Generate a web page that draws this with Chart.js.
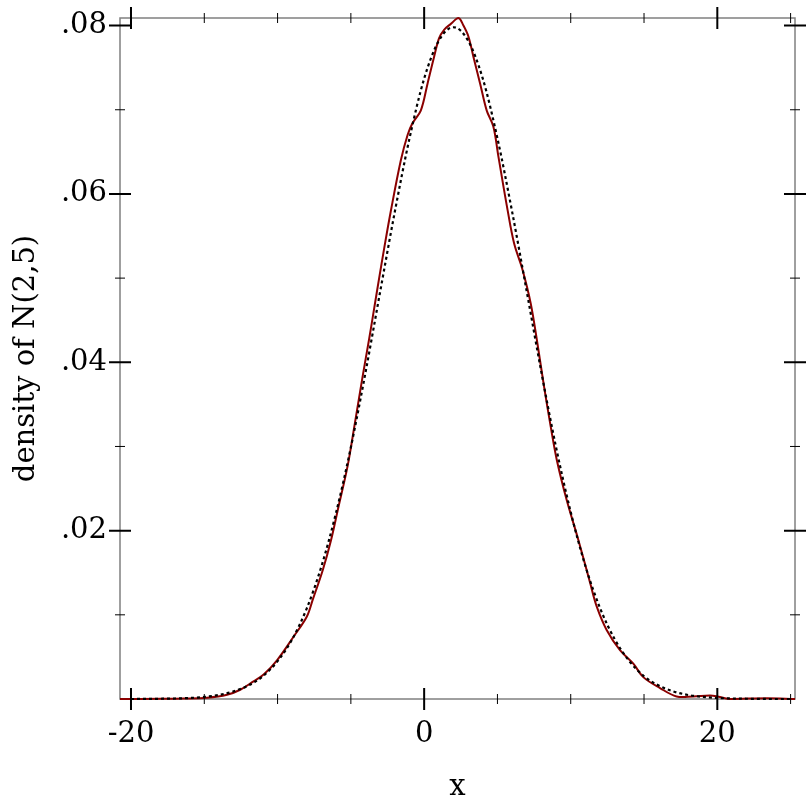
<!DOCTYPE html>
<html>
<head>
<meta charset="utf-8">
<script src="https://cdn.jsdelivr.net/npm/chart.js@4"></script>
<style>
  body { margin: 0; background: #fff; }
  #wrap { width: 812px; height: 812px; }
</style>
</head>
<body>
<div id="wrap"><canvas id="densityChart" width="812" height="812"></canvas></div>
<script>
// estimated density of the sample (dark red)
const kdeX = [-20.75, -18, -16.4, -14.8, -13.45, -12.55, -11.64, -10.95, -10.04, -8.91, -8.0, -7.6,
  -6.92, -6.35, -5.9, -5.22, -4.77, -4.2, -3.75, -3.41, -3.07, -2.73, -2.27, -1.59, -1.13, -0.8,
  -0.23, 0.23, 0.68, 1.02, 1.36, 1.82, 2.34, 2.68, 3.02, 3.36, 3.82, 4.27, 4.72, 5.07, 5.69, 6.14,
  6.71, 7.27, 7.73, 8.18, 8.64, 9.05, 9.73, 10.52, 11.32, 11.77, 12.45, 13.36, 14.27, 14.95, 16.09,
  17.22, 18.36, 19.7, 20.84, 23.4, 25.3];
const kdeY = [0.0, 0.00002, 0.00005, 0.00015, 0.0005, 0.0011, 0.0021, 0.0029, 0.0046, 0.0074, 0.0098, 0.0118,
  0.0153, 0.0189, 0.0224, 0.0277, 0.0323, 0.0383, 0.0428, 0.0464, 0.0500, 0.0535, 0.0580, 0.0640, 0.0670, 0.0684,
  0.0699, 0.0731, 0.0763, 0.0785, 0.0795, 0.0802, 0.0809, 0.0800, 0.0787, 0.0763, 0.0731, 0.0699, 0.0680, 0.0644, 0.0581, 0.0541,
  0.0510, 0.0470, 0.0422, 0.0371, 0.0323, 0.0284, 0.0236, 0.0189, 0.0138, 0.0110, 0.0082, 0.0058, 0.0042, 0.0026, 0.0013,
  0.0003, 0.0003, 0.0004, 0.0, 0.0001, 0.0];

// N(2,5) density (dotted black)
const normX = [-20, -19, -18, -17, -16, -15, -14, -13, -12, -11, -10, -9, -8, -7, -6, -5, -4, -3, -2, -1, 0,
  1, 2, 3, 4, 5, 6, 7, 8, 9, 10, 11, 12, 13, 14, 15, 16, 17, 18, 19, 20, 21, 22, 23, 24, 25];
const normY = [0.0, 0.00001, 0.00003, 0.00006, 0.00012, 0.00025, 0.00048, 0.0009, 0.0016, 0.0027, 0.0045,
  0.0071, 0.0108, 0.0158, 0.0222, 0.0299, 0.0388, 0.0484, 0.0579, 0.0666, 0.0737,
  0.0782, 0.0798, 0.0782, 0.0737, 0.0666, 0.0579, 0.0484, 0.0388, 0.0299, 0.0222, 0.0158, 0.0108, 0.0071,
  0.0045, 0.0027, 0.0016, 0.0009, 0.00048, 0.00025, 0.00012, 0.00006, 0.00003, 0.00001, 0.0, 0.0];

// ticks
const xMajor = [-20, 0, 20];
const xMajorLabels = ['-20', '0', '20'];
const xMinor = [-15, -10, -5, 5, 10, 15, 25];
const yMajor = [0.02, 0.04, 0.06, 0.08];
const yMajorLabels = ['.02', '.04', '.06', '.08'];
const yMinor = [0.01, 0.03, 0.05, 0.07];

const serif = 'DejaVu Serif';
const toPoints = (xs, ys) => xs.map((x, i) => ({ x: x, y: ys[i] }));

// grey box plus tick marks on all four sides
const frameTicks = {
  id: 'frameTicks',
  beforeDatasetsDraw(chart) {
    const { ctx, chartArea: a } = chart;
    ctx.save();
    ctx.strokeStyle = '#808080';
    ctx.lineWidth = 1.5;
    ctx.strokeRect(a.left, a.top, a.right - a.left, a.bottom - a.top);
    ctx.restore();
  },
  afterDatasetsDraw(chart) {
    const { ctx, chartArea: a, scales } = chart;
    ctx.save();
    ctx.strokeStyle = '#000';
    const vTick = (v, half, w) => {
      const px = scales.x.getPixelForValue(v);
      ctx.lineWidth = w;
      ctx.beginPath();
      ctx.moveTo(px, a.bottom - half); ctx.lineTo(px, a.bottom + half);
      ctx.moveTo(px, a.top - half); ctx.lineTo(px, a.top + half);
      ctx.stroke();
    };
    const hTick = (v, half, w) => {
      const py = scales.y.getPixelForValue(v);
      ctx.lineWidth = w;
      ctx.beginPath();
      ctx.moveTo(a.left - half, py); ctx.lineTo(a.left + half, py);
      ctx.moveTo(a.right - half, py); ctx.lineTo(a.right + half, py);
      ctx.stroke();
    };
    xMajor.forEach(v => vTick(v, 11, 2));
    xMinor.forEach(v => vTick(v, 5, 1));
    yMajor.forEach(v => hTick(v, 11, 2));
    yMinor.forEach(v => hTick(v, 5, 1));
    ctx.restore();
  }
};

new Chart(document.getElementById('densityChart').getContext('2d'), {
  type: 'line',
  data: {
    datasets: [
      {
        label: 'N(2,5)',
        data: toPoints(normX, normY),
        borderColor: '#000',
        borderWidth: 2.2,
        borderDash: [3, 3],
        pointRadius: 0,
        cubicInterpolationMode: 'monotone',
        fill: false,
        clip: 4
      },
      {
        label: 'density',
        data: toPoints(kdeX, kdeY),
        borderColor: '#8b0000',
        borderWidth: 2,
        pointRadius: 0,
        tension: 0.35,
        fill: false,
        clip: 4
      }
    ]
  },
  options: {
    responsive: false,
    animation: false,
    layout: { padding: { top: 18, right: 17, left: 0, bottom: 0 } },
    plugins: { legend: { display: false }, tooltip: { enabled: false } },
    scales: {
      x: {
        type: 'linear',
        min: -20.75,
        max: 25.3,
        afterBuildTicks: s => { s.ticks = xMajor.map(v => ({ value: v })); },
        afterFit: s => { s.height = 113; s.paddingLeft = 0; s.paddingRight = 0; },
        grid: { display: false },
        border: { display: false },
        ticks: {
          autoSkip: false,
          maxRotation: 0,
          padding: 10.5,
          color: '#000',
          font: { family: serif, size: 29 },
          callback: (v, i) => xMajorLabels[i]
        },
        title: {
          display: true,
          text: 'x',
          color: '#000',
          font: { family: serif, size: 29 },
          padding: { top: 0, bottom: 7.5 }
        }
      },
      y: {
        type: 'linear',
        min: 0,
        max: 0.0809,
        afterBuildTicks: s => { s.ticks = yMajor.map(v => ({ value: v })); },
        afterFit: s => { s.width = 120; s.paddingTop = 0; s.paddingBottom = 0; },
        grid: { display: false },
        border: { display: false },
        ticks: {
          autoSkip: false,
          padding: 5,
          color: '#000',
          font: { family: serif, size: 29 },
          callback: (v, i) => yMajorLabels[i]
        },
        title: {
          display: true,
          text: 'density of N(2,5)',
          color: '#000',
          font: { family: serif, size: 29 },
          padding: { top: 9.5, bottom: 0 }
        }
      }
    }
  },
  plugins: [frameTicks]
});
</script>
</body>
</html>
